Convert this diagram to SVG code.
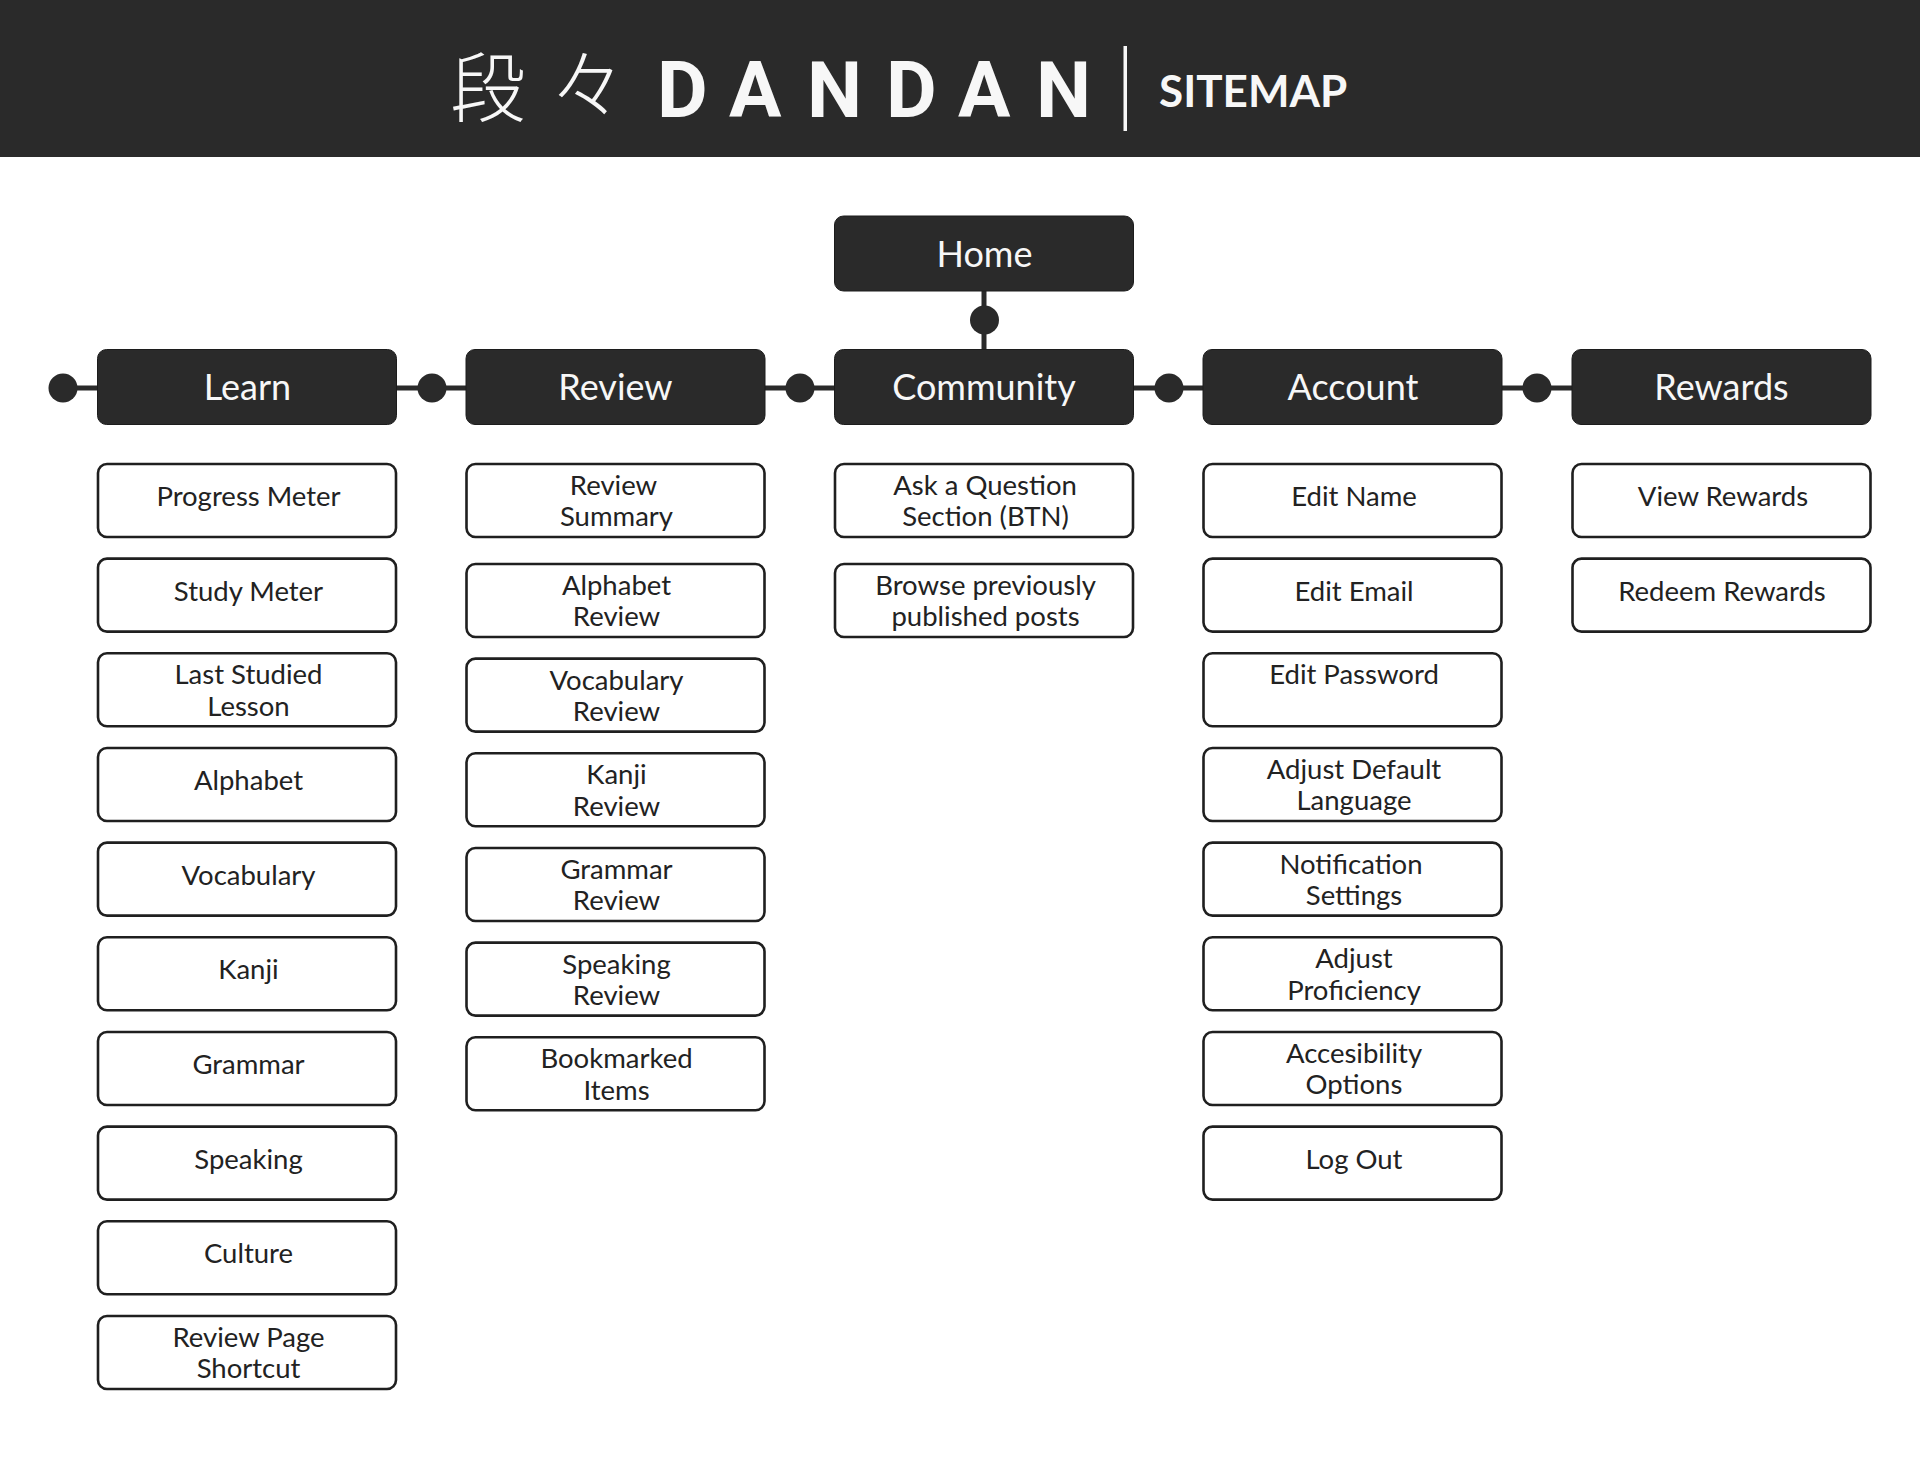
<svg xmlns="http://www.w3.org/2000/svg" width="1920" height="1484" viewBox="0 0 1920 1484">
<style>
.d{fill:#2a2a2a;stroke:#1c1c1c;stroke-width:1}
.w{fill:#fff;stroke:#1f1f1f;stroke-width:2.6}
.dt{font-family:Lato,"Liberation Sans",sans-serif;font-size:36px;fill:#f7f7f7;text-anchor:middle}
.t{font-family:Lato,"Liberation Sans",sans-serif;font-size:27.5px;fill:#222;text-anchor:middle}
.c{stroke:#2a2a2a;stroke-width:5;fill:none}
.dot{fill:#2a2a2a}
.k{font-family:"Noto Sans CJK JP",sans-serif;font-weight:300;font-size:76px;fill:#f7f7f7}
.l{font-family:Roboto,"Liberation Sans",sans-serif;font-weight:700;font-size:78px;fill:#f7f7f7}
.s{font-family:Lato,"Liberation Sans",sans-serif;font-weight:700;font-size:44px;fill:#f7f7f7;text-anchor:start}
</style>
<rect width="1920" height="1484" fill="#fff"/>
<g id="header">
<rect width="1920" height="157" fill="#2a2a2a"/>
<text class="k" x="450" y="116">段</text>
<text class="k" x="550" y="113">々</text>
<text class="l" x="657 729 807 886 958 1036" y="117">DANDAN</text>
<rect x="1123.5" y="46" width="3.5" height="85" fill="#f7f7f7"/>
<text class="s" x="1159" y="107">SITEMAP</text>
</g>
<g id="connectors">
<path class="c" d="M62 388H1572M984 291V349"/>
<circle class="dot" cx="63" cy="388" r="14.5"/>
<circle class="dot" cx="432" cy="388" r="14.5"/>
<circle class="dot" cx="800" cy="388" r="14.5"/>
<circle class="dot" cx="1169" cy="388" r="14.5"/>
<circle class="dot" cx="1537" cy="388" r="14.5"/>
<circle class="dot" cx="984.5" cy="320" r="14.5"/>
</g>
<g id="home"><rect class="d" x="834.5" y="216" width="299" height="75" rx="9"/><text class="dt" x="984.5" y="267">Home</text></g>
<g id="learn"><rect class="d" x="97.5" y="349.5" width="299" height="75" rx="9"/><text class="dt" x="247.5" y="400">Learn</text></g>
<g id="review"><rect class="d" x="466" y="349.5" width="299" height="75" rx="9"/><text class="dt" x="615.5" y="400">Review</text></g>
<g id="community"><rect class="d" x="834.5" y="349.5" width="299" height="75" rx="9"/><text class="dt" x="984" y="400">Community</text></g>
<g id="account"><rect class="d" x="1203" y="349.5" width="299" height="75" rx="9"/><text class="dt" x="1353" y="400">Account</text></g>
<g id="rewards"><rect class="d" x="1572" y="349.5" width="299" height="75" rx="9"/><text class="dt" x="1721.5" y="400">Rewards</text></g>

<g id="learn-1"><rect class="w" x="98" y="464" width="298" height="73" rx="9"/><text class="t" x="248.5" y="506">Progress Meter</text></g>
<g id="learn-2"><rect class="w" x="98" y="558.6" width="298" height="73" rx="9"/><text class="t" x="248.5" y="600.6">Study Meter</text></g>
<g id="learn-3"><rect class="w" x="98" y="653.3" width="298" height="73" rx="9"/><text class="t" x="248.5" y="684.3">Last Studied</text><text class="t" x="248.5" y="715.6">Lesson</text></g>
<g id="learn-4"><rect class="w" x="98" y="748" width="298" height="73" rx="9"/><text class="t" x="248.5" y="790">Alphabet</text></g>
<g id="learn-5"><rect class="w" x="98" y="842.6" width="298" height="73" rx="9"/><text class="t" x="248.5" y="884.6">Vocabulary</text></g>
<g id="learn-6"><rect class="w" x="98" y="937.2" width="298" height="73" rx="9"/><text class="t" x="248.5" y="979.2">Kanji</text></g>
<g id="learn-7"><rect class="w" x="98" y="1032" width="298" height="73" rx="9"/><text class="t" x="248.5" y="1074">Grammar</text></g>
<g id="learn-8"><rect class="w" x="98" y="1126.6" width="298" height="73" rx="9"/><text class="t" x="248.5" y="1168.6">Speaking</text></g>
<g id="learn-9"><rect class="w" x="98" y="1221.2" width="298" height="73" rx="9"/><text class="t" x="248.5" y="1263.2">Culture</text></g>
<g id="learn-10"><rect class="w" x="98" y="1316" width="298" height="73" rx="9"/><text class="t" x="248.5" y="1347">Review Page</text><text class="t" x="248.5" y="1378.3">Shortcut</text></g>

<g id="review-1"><rect class="w" x="466.5" y="464" width="298" height="73" rx="9"/><text class="t" x="613.5" y="495">Review</text><text class="t" x="616.5" y="526.3">Summary</text></g>
<g id="review-2"><rect class="w" x="466.5" y="564" width="298" height="73" rx="9"/><text class="t" x="616.5" y="595">Alphabet</text><text class="t" x="616.5" y="626.3">Review</text></g>
<g id="review-3"><rect class="w" x="466.5" y="658.6" width="298" height="73" rx="9"/><text class="t" x="616.5" y="689.6">Vocabulary</text><text class="t" x="616.5" y="720.9">Review</text></g>
<g id="review-4"><rect class="w" x="466.5" y="753.2" width="298" height="73" rx="9"/><text class="t" x="616.5" y="784.2">Kanji</text><text class="t" x="616.5" y="815.5">Review</text></g>
<g id="review-5"><rect class="w" x="466.5" y="848" width="298" height="73" rx="9"/><text class="t" x="616.5" y="879">Grammar</text><text class="t" x="616.5" y="910.3">Review</text></g>
<g id="review-6"><rect class="w" x="466.5" y="942.6" width="298" height="73" rx="9"/><text class="t" x="616.5" y="973.6">Speaking</text><text class="t" x="616.5" y="1004.9">Review</text></g>
<g id="review-7"><rect class="w" x="466.5" y="1037.2" width="298" height="73" rx="9"/><text class="t" x="616.5" y="1068.2">Bookmarked</text><text class="t" x="616.5" y="1099.5">Items</text></g>

<g id="community-1"><rect class="w" x="835" y="464" width="298" height="73" rx="9"/><text class="t" x="985" y="495">Ask a Question</text><text class="t" x="985.5" y="526.3">Section (BTN)</text></g>
<g id="community-2"><rect class="w" x="835" y="564" width="298" height="73" rx="9"/><text class="t" x="985.5" y="595">Browse previously</text><text class="t" x="985.5" y="626.3">published posts</text></g>

<g id="account-1"><rect class="w" x="1203.5" y="464" width="298" height="73" rx="9"/><text class="t" x="1354" y="506">Edit Name</text></g>
<g id="account-2"><rect class="w" x="1203.5" y="558.6" width="298" height="73" rx="9"/><text class="t" x="1354" y="600.6">Edit Email</text></g>
<g id="account-3"><rect class="w" x="1203.5" y="653.3" width="298" height="73" rx="9"/><text class="t" x="1354" y="684.3">Edit Password</text></g>
<g id="account-4"><rect class="w" x="1203.5" y="748" width="298" height="73" rx="9"/><text class="t" x="1354" y="779">Adjust Default</text><text class="t" x="1354" y="810.3">Language</text></g>
<g id="account-5"><rect class="w" x="1203.5" y="842.6" width="298" height="73" rx="9"/><text class="t" x="1351" y="873.6">Notification</text><text class="t" x="1354" y="904.9">Settings</text></g>
<g id="account-6"><rect class="w" x="1203.5" y="937.2" width="298" height="73" rx="9"/><text class="t" x="1354" y="968.2">Adjust</text><text class="t" x="1354" y="999.5">Proficiency</text></g>
<g id="account-7"><rect class="w" x="1203.5" y="1032" width="298" height="73" rx="9"/><text class="t" x="1354" y="1063">Accesibility</text><text class="t" x="1354" y="1094.3">Options</text></g>
<g id="account-8"><rect class="w" x="1203.5" y="1126.6" width="298" height="73" rx="9"/><text class="t" x="1354" y="1168.6">Log Out</text></g>

<g id="rewards-1"><rect class="w" x="1572.5" y="464" width="298" height="73" rx="9"/><text class="t" x="1723" y="506">View Rewards</text></g>
<g id="rewards-2"><rect class="w" x="1572.5" y="558.6" width="298" height="73" rx="9"/><text class="t" x="1722" y="600.6">Redeem Rewards</text></g>
</svg>
